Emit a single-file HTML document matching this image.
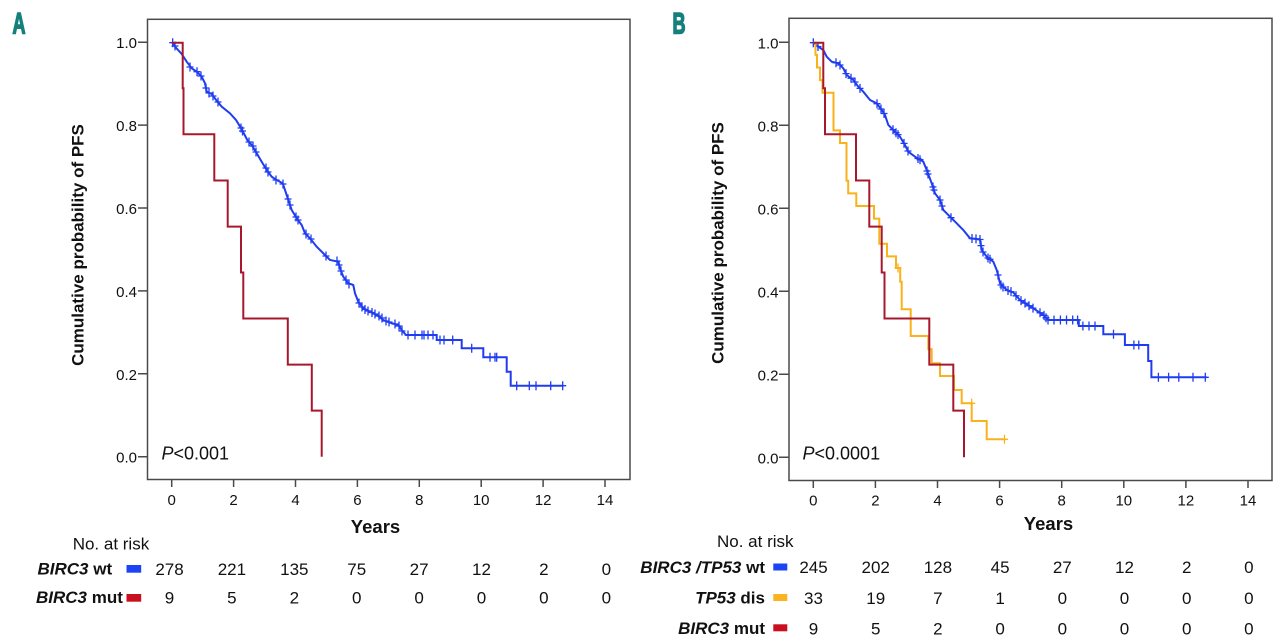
<!DOCTYPE html>
<html><head><meta charset="utf-8"><style>
html,body{margin:0;padding:0;background:#fff;}
svg{display:block;}
text{font-family:"Liberation Sans",Arial,sans-serif;fill:#111;}
</style></head><body>
<svg width="1280" height="644" viewBox="0 0 1280 644" xmlns="http://www.w3.org/2000/svg">
<rect x="0" y="0" width="1280" height="644" fill="#fff"/>

<!-- Panel labels -->
<text transform="translate(12.5,33.3) scale(0.6,1)" font-size="30" font-weight="bold" style="fill:#15807b;stroke:#15807b;stroke-width:1.6">A</text>
<text transform="translate(672.5,33.3) scale(0.6,1)" font-size="30" font-weight="bold" style="fill:#15807b;stroke:#15807b;stroke-width:1.6">B</text>

<!-- ================= PANEL A ================= -->
<rect x="147.5" y="19.3" width="482.5" height="460.2" fill="none" stroke="#4a4a4a" stroke-width="1.5"/>
<g stroke="#4a4a4a" stroke-width="1.5">
<path d="M138,42.2H148M138,125.1H148M138,208H148M138,290.9H148M138,373.8H148M138,456.7H148"/>
<path d="M171.7,479.5V487M233.6,479.5V487M295.5,479.5V487M357.4,479.5V487M419.3,479.5V487M481.2,479.5V487M543.1,479.5V487M605,479.5V487"/>
</g>
<g font-size="15" text-anchor="end">
<text x="137" y="48.2">1.0</text>
<text x="137" y="131.1">0.8</text>
<text x="137" y="214">0.6</text>
<text x="137" y="296.9">0.4</text>
<text x="137" y="379.8">0.2</text>
<text x="137" y="462.7">0.0</text>
</g>
<g font-size="15" text-anchor="middle">
<text x="171.7" y="505">0</text>
<text x="233.6" y="505">2</text>
<text x="295.5" y="505">4</text>
<text x="357.4" y="505">6</text>
<text x="419.3" y="505">8</text>
<text x="481.2" y="505">10</text>
<text x="543.1" y="505">12</text>
<text x="605" y="505">14</text>
</g>
<text transform="translate(83.5,245) rotate(-90)" text-anchor="middle" font-size="17" font-weight="bold">Cumulative probability of PFS</text>
<text x="375.5" y="533" text-anchor="middle" font-size="18.5" font-weight="bold">Years</text>
<text x="161.5" y="459.5" font-size="18"><tspan font-style="italic">P</tspan>&lt;0.001</text>

<!-- Blue A -->
<polyline fill="none" stroke="#1f3cf0" stroke-width="2" stroke-linejoin="miter" points="172.7,42.7 175,46.7 181.7,54 186.7,61.7 191.7,68.3 196.7,71.7 201.7,76.7 205,83.3 206.7,91.7 211.7,94 216.7,100.7 221.7,106.7 230,113.3 236,120 241.7,129.3 247.3,140 251.7,145 256.7,153.3 261.7,161.7 266.7,170 271.7,176.7 276.7,180 282.7,183.3 285,190 288.3,200 291.7,210 296.7,218.3 301.7,225 305,233.3 310,238.3 316.7,246.7 325,255 330,260 338.3,261.7 340,268.3 343.3,276.7 348.3,283.3 353.3,285 355,293.3 358.3,301.7 363.3,308.3 370,311.7 376.7,315 383.3,320 390,322.7 398.3,325 401.7,330 406,335 436.7,335 436.7,340 461.7,340 461.7,348.3 483.3,348.3 483.3,357.3 506.7,357.3 506.7,371.7 510.7,371.7 510.7,385.7 563.3,385.7"/>
<path fill="none" stroke="#1f3cf0" stroke-width="1.3" d="M169.2,42.7h7m-3.5,-4.5v9M171.5,46h7m-3.5,-4.5v9M186.5,67h7m-3.5,-4.5v9M193.5,71.7h7m-3.5,-4.5v9M197.5,76h7m-3.5,-4.5v9M202.5,88h7m-3.5,-4.5v9M205.5,93h7m-3.5,-4.5v9M209.5,96h7m-3.5,-4.5v9M214.5,102h7m-3.5,-4.5v9M237.5,128h7m-3.5,-4.5v9M239,131h7m-3.5,-4.5v9M245.5,142h7m-3.5,-4.5v9M249.5,146h7m-3.5,-4.5v9M252.5,152h7m-3.5,-4.5v9M262.5,168h7m-3.5,-4.5v9M264.5,172h7m-3.5,-4.5v9M272.5,180h7m-3.5,-4.5v9M279.5,184h7m-3.5,-4.5v9M284.5,199h7m-3.5,-4.5v9M286.5,205h7m-3.5,-4.5v9M292.5,217h7m-3.5,-4.5v9M294.5,220h7m-3.5,-4.5v9M302.5,234h7m-3.5,-4.5v9M307.5,239h7m-3.5,-4.5v9M322.5,256h7m-3.5,-4.5v9M333.5,261h7m-3.5,-4.5v9M335.5,265h7m-3.5,-4.5v9M337.5,271h7m-3.5,-4.5v9M342.5,280h7m-3.5,-4.5v9M345.5,284h7m-3.5,-4.5v9M355.5,303h7m-3.5,-4.5v9M358.5,307h7m-3.5,-4.5v9M361.5,309.5h7m-3.5,-4.5v9M364.5,311h7m-3.5,-4.5v9M368.5,312.5h7m-3.5,-4.5v9M371.5,314h7m-3.5,-4.5v9M375.5,316h7m-3.5,-4.5v9M378.5,318h7m-3.5,-4.5v9M382.5,321h7m-3.5,-4.5v9M385.5,322h7m-3.5,-4.5v9M391.5,324h7m-3.5,-4.5v9M395.5,326h7m-3.5,-4.5v9M398.5,331h7m-3.5,-4.5v9M404.5,335h7m-3.5,-4.5v9M411.5,335h7m-3.5,-4.5v9M418.5,335h7m-3.5,-4.5v9M420.5,335h7m-3.5,-4.5v9M424.5,335h7m-3.5,-4.5v9M429.5,335h7m-3.5,-4.5v9M436.5,340h7m-3.5,-4.5v9M440.5,340h7m-3.5,-4.5v9M449.2,340h7m-3.5,-4.5v9M468.2,348.3h7m-3.5,-4.5v9M486.5,357.3h7m-3.5,-4.5v9M491.5,357.3h7m-3.5,-4.5v9M493.2,357.3h7m-3.5,-4.5v9M513.2,385.7h7m-3.5,-4.5v9M525.8,385.7h7m-3.5,-4.5v9M532.5,385.7h7m-3.5,-4.5v9M547.2,385.7h7m-3.5,-4.5v9M559.2,385.7h7m-3.5,-4.5v9"/>

<!-- Red A -->
<path fill="none" stroke="#a8182c" stroke-width="2" d="M171.7,42.7H182.7V88.3H183.5V134.3H214.3V180.5H227.7V226.6H241V272.5H243.3V318.5H287.8V364.6H311.8V410.6H321.7V456.7"/>

<!-- Risk table A -->
<text x="72.7" y="549.5" font-size="17">No. at risk</text>
<text x="37.5" y="574.5" font-size="17" font-weight="bold"><tspan font-style="italic">BIRC3</tspan> wt</text>
<text x="36" y="603" font-size="17" font-weight="bold"><tspan font-style="italic">BIRC3</tspan> mut</text>
<rect x="126.5" y="565" width="14.7" height="7.7" fill="#1c44f5"/>
<rect x="126.5" y="594" width="14.7" height="7.7" fill="#c8101e"/>
<g font-size="17" text-anchor="middle">
<text x="169.5" y="575">278</text><text x="231.9" y="575">221</text><text x="294.3" y="575">135</text><text x="356.7" y="575">75</text><text x="419.1" y="575">27</text><text x="481.5" y="575">12</text><text x="543.9" y="575">2</text><text x="606.3" y="575">0</text>
<text x="169.5" y="603.5">9</text><text x="231.9" y="603.5">5</text><text x="294.3" y="603.5">2</text><text x="356.7" y="603.5">0</text><text x="419.1" y="603.5">0</text><text x="481.5" y="603.5">0</text><text x="543.9" y="603.5">0</text><text x="606.3" y="603.5">0</text>
</g>

<!-- ================= PANEL B ================= -->
<rect x="789" y="18.3" width="483" height="462.2" fill="none" stroke="#4a4a4a" stroke-width="1.5"/>
<g stroke="#4a4a4a" stroke-width="1.5">
<path d="M779,42.3H789M779,125.3H789M779,208.3H789M779,291.3H789M779,374.3H789M779,457.3H789"/>
<path d="M813.3,480.5V488M875.4,480.5V488M937.5,480.5V488M999.6,480.5V488M1061.7,480.5V488M1123.8,480.5V488M1185.9,480.5V488M1248,480.5V488"/>
</g>
<g font-size="15" text-anchor="end">
<text x="778.5" y="48.3">1.0</text>
<text x="778.5" y="131.3">0.8</text>
<text x="778.5" y="214.3">0.6</text>
<text x="778.5" y="297.3">0.4</text>
<text x="778.5" y="380.3">0.2</text>
<text x="778.5" y="463.3">0.0</text>
</g>
<g font-size="15" text-anchor="middle">
<text x="813.3" y="505.5">0</text>
<text x="875.4" y="505.5">2</text>
<text x="937.5" y="505.5">4</text>
<text x="999.6" y="505.5">6</text>
<text x="1061.7" y="505.5">8</text>
<text x="1123.8" y="505.5">10</text>
<text x="1185.9" y="505.5">12</text>
<text x="1248" y="505.5">14</text>
</g>
<text transform="translate(723.5,243) rotate(-90)" text-anchor="middle" font-size="17" font-weight="bold">Cumulative probability of PFS</text>
<text x="1048.5" y="530" text-anchor="middle" font-size="18.5" font-weight="bold">Years</text>
<text x="802.5" y="459.5" font-size="18"><tspan font-style="italic">P</tspan>&lt;0.0001</text>

<!-- Blue B -->
<polyline fill="none" stroke="#1f3cf0" stroke-width="2" points="813.3,42.7 818.3,46.7 823.3,50 826.7,56.7 831.7,61.7 838.3,63.3 843.3,68.3 846.7,75 853.3,80 858.3,86.7 863.3,91.7 870,100 876.7,103.3 881.7,110 885,115 888.3,125 893.3,130 900,136.7 905,145 908.3,151.7 915,156.7 923.3,161.7 926.7,170 931.7,183.3 935,193.3 940,200 943.3,210 950,216.7 956.7,223.3 963.3,230 970,238.3 980,239.5 981.7,250 986.7,256.7 993.3,261.7 996.7,270 998.3,276 1000,283.3 1006.7,290 1013.3,292.5 1020,300 1033.3,308.3 1043.3,315 1048.3,320 1078.8,320 1078.8,326 1103.3,326 1103.3,334.3 1124.9,334.3 1124.9,345 1148.2,345 1148.2,361 1151.4,361 1151.4,377.3 1206.5,377.3"/>
<path fill="none" stroke="#1f3cf0" stroke-width="1.3" d="M809.8,42.7h7m-3.5,-4.5v9M814.5,46.5h7m-3.5,-4.5v9M832.5,62.7h7m-3.5,-4.5v9M836.5,65h7m-3.5,-4.5v9M842.5,73.6h7m-3.5,-4.5v9M847.5,78.2h7m-3.5,-4.5v9M851.5,82h7m-3.5,-4.5v9M856.5,88.4h7m-3.5,-4.5v9M873.5,103.7h7m-3.5,-4.5v9M877.5,109h7m-3.5,-4.5v9M880.5,113.5h7m-3.5,-4.5v9M889.5,129.7h7m-3.5,-4.5v9M892.5,132.7h7m-3.5,-4.5v9M894.5,134.6h7m-3.5,-4.5v9M900.5,143.4h7m-3.5,-4.5v9M904.5,151h7m-3.5,-4.5v9M914.5,158.5h7m-3.5,-4.5v9M916.5,159.7h7m-3.5,-4.5v9M923.5,171h7m-3.5,-4.5v9M924.5,174h7m-3.5,-4.5v9M929.5,187h7m-3.5,-4.5v9M930.5,190h7m-3.5,-4.5v9M936.5,200h7m-3.5,-4.5v9M938.5,206h7m-3.5,-4.5v9M947.5,217.7h7m-3.5,-4.5v9M968.5,238.5h7m-3.5,-4.5v9M972.5,238.9h7m-3.5,-4.5v9M976.5,239.5h7m-3.5,-4.5v9M977.5,245.6h7m-3.5,-4.5v9M979.5,252h7m-3.5,-4.5v9M984.5,258h7m-3.5,-4.5v9M986.5,259.3h7m-3.5,-4.5v9M994.5,275h7m-3.5,-4.5v9M997.5,285h7m-3.5,-4.5v9M999.5,287h7m-3.5,-4.5v9M1004.5,290.5h7m-3.5,-4.5v9M1007.5,291.6h7m-3.5,-4.5v9M1012.5,295.8h7m-3.5,-4.5v9M1017.5,300.6h7m-3.5,-4.5v9M1021.5,303.1h7m-3.5,-4.5v9M1025.5,305.8h7m-3.5,-4.5v9M1029.5,308.1h7m-3.5,-4.5v9M1036.5,312.8h7m-3.5,-4.5v9M1040.5,315.4h7m-3.5,-4.5v9M1042.5,317.8h7m-3.5,-4.5v9M1044.5,320h7m-3.5,-4.5v9M1050.5,320h7m-3.5,-4.5v9M1056.9,320h7m-3.5,-4.5v9M1063,320h7m-3.5,-4.5v9M1069.2,320h7m-3.5,-4.5v9M1074.1,320h7m-3.5,-4.5v9M1079.4,326h7m-3.5,-4.5v9M1085.5,326h7m-3.5,-4.5v9M1091.5,326h7m-3.5,-4.5v9M1110,334.3h7m-3.5,-4.5v9M1130.4,345h7m-3.5,-4.5v9M1135.3,345h7m-3.5,-4.5v9M1154.9,377.3h7m-3.5,-4.5v9M1165.1,377.3h7m-3.5,-4.5v9M1175.3,377.3h7m-3.5,-4.5v9M1189.5,377.3h7m-3.5,-4.5v9M1201.8,377.3h7m-3.5,-4.5v9"/>

<!-- Yellow B -->
<path fill="none" stroke="#f9b21b" stroke-width="2" d="M813.3,42.7H815.5V54.9H817V67.5H820V80.1H822.5V92.7H833.5V130.4H840V143H846.5V180.8H848.2V193.4H856.3V206H874V218.6H879.3V243.8H887V256.4H896V268H900.2V281.7H901.7V309.3H910.7V336H928.3V349.3H931.7V363.3H940V376H954V390H961.7V403.3H971.7V421H986.7V439.3H1004.5"/>
<path fill="none" stroke="#f9b21b" stroke-width="1.3" d="M894.5,268h7m-3.5,-4.5v9M968.2,403.3h7m-3.5,-4.5v9M1001,439.3h7m-3.5,-4.5v9"/>

<!-- Red B -->
<path fill="none" stroke="#a8182c" stroke-width="2" d="M813.3,42.7H823.3V88.3H825V134.3H856V180.5H869.3V226.6H881.7V272.5H884.5V318.5H929.3V364.6H953.3V410.6H964V457.3"/>

<!-- Risk table B -->
<text x="717" y="547" font-size="17">No. at risk</text>
<text x="765" y="573" font-size="17" font-weight="bold" text-anchor="end"><tspan font-style="italic">BIRC3 /TP53</tspan> wt</text>
<text x="765" y="603.5" font-size="17" font-weight="bold" text-anchor="end"><tspan font-style="italic">TP53</tspan> dis</text>
<text x="765" y="634" font-size="17" font-weight="bold" text-anchor="end"><tspan font-style="italic">BIRC3</tspan> mut</text>
<rect x="773.3" y="563.5" width="14" height="7" fill="#1c44f5"/>
<rect x="773.3" y="594" width="14" height="7" fill="#fbb320"/>
<rect x="773.3" y="624.3" width="14" height="7" fill="#c8101e"/>
<g font-size="17" text-anchor="middle">
<text x="813.5" y="573">245</text><text x="875.7" y="573">202</text><text x="937.9" y="573">128</text><text x="1000.1" y="573">45</text><text x="1062.3" y="573">27</text><text x="1124.5" y="573">12</text><text x="1186.7" y="573">2</text><text x="1248.9" y="573">0</text>
<text x="813.5" y="604">33</text><text x="875.7" y="604">19</text><text x="937.9" y="604">7</text><text x="1000.1" y="604">1</text><text x="1062.3" y="604">0</text><text x="1124.5" y="604">0</text><text x="1186.7" y="604">0</text><text x="1248.9" y="604">0</text>
<text x="813.5" y="634.5">9</text><text x="875.7" y="634.5">5</text><text x="937.9" y="634.5">2</text><text x="1000.1" y="634.5">0</text><text x="1062.3" y="634.5">0</text><text x="1124.5" y="634.5">0</text><text x="1186.7" y="634.5">0</text><text x="1248.9" y="634.5">0</text>
</g>
</svg>
</body></html>
